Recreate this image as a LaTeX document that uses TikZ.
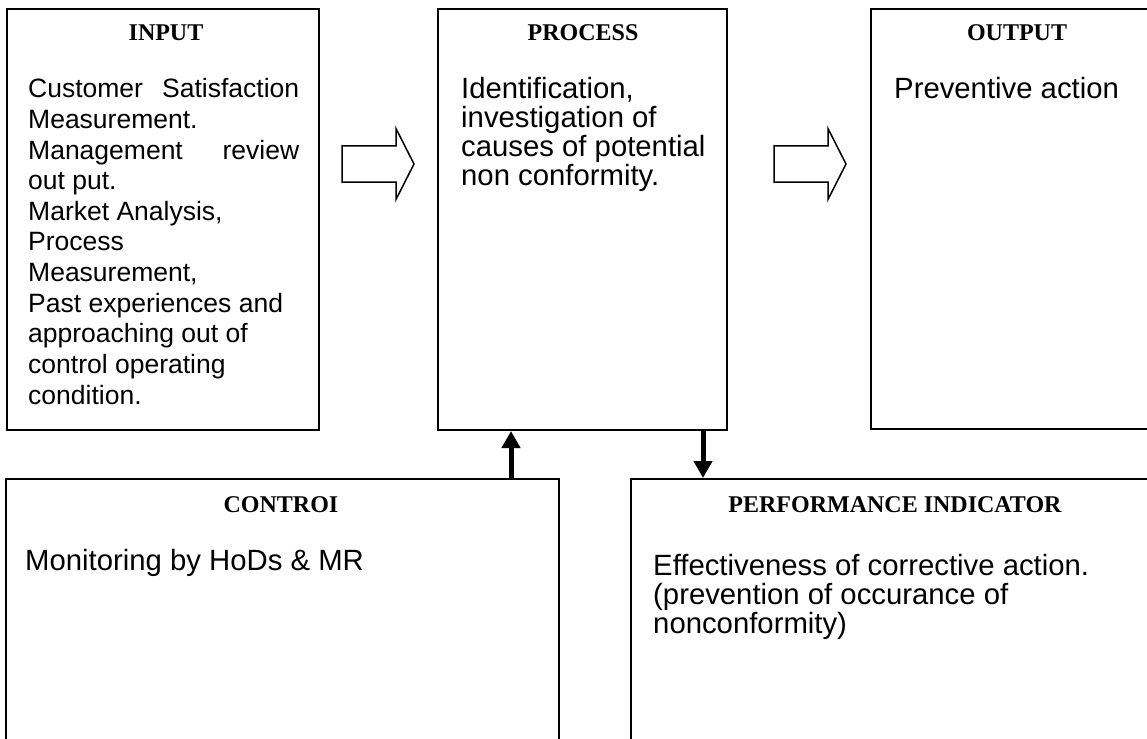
\documentclass[tikz,border=0pt]{standalone}
\usepackage{fontspec}
\setmainfont{Liberation Serif}
\newfontfamily\arialf{Liberation Sans}
\usetikzlibrary{arrows.meta}
\tikzset{
  box/.style={draw, line width=2pt, anchor=north west, inner sep=0pt},
  ttl/.style={anchor=base, inner sep=0pt, font=\fontsize{24}{28}\selectfont\bfseries},
  body/.style={anchor=base west, inner sep=0pt, font=\arialf\fontsize{29.3}{29}\selectfont},
  inbody/.style={anchor=base west, inner sep=0pt, font=\arialf\fontsize{26.5}{30.6}\selectfont},
  blockarrow/.style={draw, line width=1.5pt, fill=white, line join=miter},
  flowarrow/.style={line width=5pt, -{Triangle[length=17pt,width=18pt]}},
  pics/barrow/.style={code={
    \draw[blockarrow] (0,-18) -- (54,-18) -- (54,-35.5) -- (72,0) -- (54,35.5) -- (54,18) -- (0,18) -- cycle;}}
}
\begin{document}
\begin{tikzpicture}[x=1pt,y=-1pt]
\clip (0,0) rectangle (1147,738);
\fill[white] (0,0) rectangle (1147,738);
% boxes
\node[box, minimum width=312pt, minimum height=421pt] (in) at (6,8) {};
\node[box, minimum width=289pt, minimum height=421pt] (proc) at (437,8) {};
\node[box, minimum width=294pt, minimum height=420pt] (out) at (870,8) {};
\node[box, minimum width=553pt, minimum height=300pt] (ctrl) at (5,478) {};
\node[box, minimum width=530pt, minimum height=300pt] (perf) at (630,478) {};
% titles
\node[ttl] (tin) at (166,41) {INPUT};
\node[ttl] (tproc) at (583,41) {PROCESS};
\node[ttl] (tout) at (1017,41) {OUTPUT};
\node[ttl] (tctrl) at (281,512) {CONTROI};
\node[ttl] (tperf) at (895,512) {PERFORMANCE INDICATOR};
% bodies
\node[inbody] (bin) at (28,98) {\parbox[t]{271pt}{\raggedright
  \makebox[271pt][s]{Customer Satisfaction}\\
  Measurement.\\
  \makebox[271pt][s]{Management review}\\
  out put.\\
  Market Analysis,\\
  Process\\
  Measurement,\\
  Past experiences and\\
  approaching out of\\
  control operating\\
  condition.}};
\node[body] (bproc) at (461,99) {\parbox[t]{260pt}{\raggedright
  Identification,\\
  investigation of\\
  causes of potential\\
  non conformity.}};
\node[body] (bout) at (894,99) {Preventive action};
\node[body] (bctrl) at (25,570) {Monitoring by HoDs \& MR};
\node[body] (bperf) at (653,575) {\parbox[t]{480pt}{\raggedright
  Effectiveness of corrective action.\\
  (prevention of occurance of\\
  nonconformity)}};
% block arrows
\pic at (342,164) {barrow};
\pic at (774,164) {barrow};
% vertical connectors
\coordinate (upx) at (511,0);
\coordinate (downx) at (703,0);
\draw[flowarrow] (upx |- ctrl.north) -- (upx |- proc.south);
\draw[flowarrow] (downx |- proc.south) -- (downx |- perf.north);
\end{tikzpicture}
\end{document}
